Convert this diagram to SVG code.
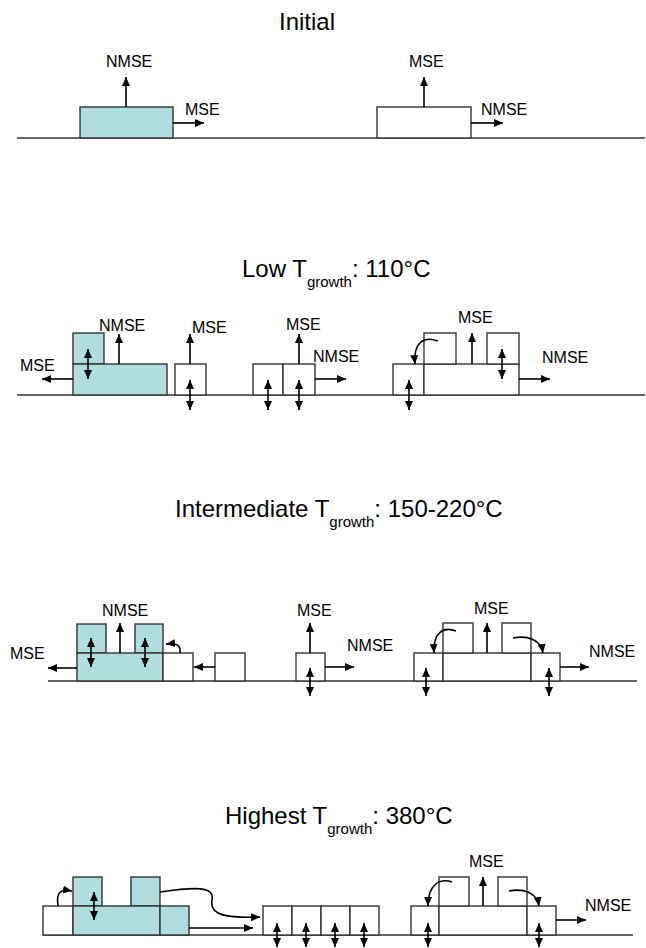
<svg xmlns="http://www.w3.org/2000/svg" width="646" height="948" viewBox="0 0 646 948">
<defs>
<marker id="ah" markerUnits="userSpaceOnUse" markerWidth="9" markerHeight="8" refX="9" refY="4" orient="auto-start-reverse"><path d="M0,0 L9,4 L0,8 z" fill="#000"/></marker>
<style>
.t{font-family:"Liberation Sans",Arial,sans-serif;font-size:24px;fill:#000}
.l{font-family:"Liberation Sans",Arial,sans-serif;font-size:16px;fill:#000}
.c{fill:#AFDDE0;stroke:#333;stroke-width:1.4}
.w{fill:#fff;stroke:#333;stroke-width:1.4}
.g{stroke:#333;stroke-width:1.4;fill:none}
.a{stroke:#000;stroke-width:1.6;fill:none;marker-end:url(#ah)}
.d{stroke:#000;stroke-width:1.6;fill:none;marker-end:url(#ah);marker-start:url(#ah)}
</style>
</defs>
<rect width="646" height="948" fill="#fff"/>

<g id="titles">
<text class="t" x="279" y="30">Initial</text>
<text class="t" x="242" y="277">Low T<tspan font-size="15" dy="10">growth</tspan><tspan dy="-10">: 110°C</tspan></text>
<text class="t" x="175" y="517">Intermediate T<tspan font-size="15" dy="10">growth</tspan><tspan dy="-10">: 150-220°C</tspan></text>
<text class="t" x="225" y="824">Highest T<tspan font-size="15" dy="10">growth</tspan><tspan dy="-10">: 380°C</tspan></text>
</g>

<g id="surfaces">
<line class="g" x1="17" y1="138" x2="645" y2="138"/>
<line class="g" x1="17" y1="395" x2="645" y2="395"/>
<line class="g" x1="48" y1="681" x2="637" y2="681"/>
<line class="g" x1="43" y1="935" x2="633" y2="935"/>
</g>

<!-- Panel 1 -->
<g id="p1-cyan"><rect class="c" x="80" y="107" width="93" height="31"/></g>
<g id="p1-white"><rect class="w" x="377" y="107" width="94" height="31"/></g>

<!-- Panel 2 -->
<g id="p2-cyan">
<rect class="c" x="73" y="333" width="31" height="31"/>
<rect class="c" x="73" y="364" width="94" height="31"/>
</g>
<g id="p2-island1"><rect class="w" x="175" y="364" width="31" height="31"/></g>
<g id="p2-island2">
<rect class="w" x="253" y="364" width="30" height="31"/>
<rect class="w" x="283" y="364" width="32" height="31"/>
</g>
<g id="p2-island3">
<rect class="w" x="393" y="364" width="31" height="31"/>
<rect class="w" x="424" y="364" width="95" height="31"/>
<rect class="w" x="424" y="333" width="32" height="31"/>
<rect class="w" x="487" y="333" width="32" height="31"/>
</g>

<!-- Panel 3 -->
<g id="p3-cyan">
<rect class="c" x="77" y="624" width="29" height="29"/>
<rect class="c" x="135" y="624" width="28" height="29"/>
<rect class="c" x="77" y="653" width="86" height="28"/>
</g>
<g id="p3-step"><rect class="w" x="163" y="653" width="30" height="28"/></g>
<g id="p3-island1"><rect class="w" x="215" y="653" width="30" height="28"/></g>
<g id="p3-island2"><rect class="w" x="296" y="653" width="29" height="28"/></g>
<g id="p3-island3">
<rect class="w" x="414" y="653" width="29" height="28"/>
<rect class="w" x="443" y="653" width="88" height="28"/>
<rect class="w" x="443" y="623" width="30" height="30"/>
<rect class="w" x="502" y="623" width="29" height="30"/>
<rect class="w" x="531" y="653" width="29" height="28"/>
</g>

<!-- Panel 4 -->
<g id="p4-cyan">
<rect class="w" x="43" y="906" width="30" height="29"/>
<rect class="c" x="73" y="877" width="29" height="29"/>
<rect class="c" x="131" y="877" width="29" height="29"/>
<rect class="c" x="73" y="906" width="87" height="29"/>
<rect class="c" x="160" y="906" width="29" height="29"/>
</g>
<g id="p4-row">
<rect class="w" x="263" y="906" width="29" height="29"/>
<rect class="w" x="292" y="906" width="29" height="29"/>
<rect class="w" x="321" y="906" width="29" height="29"/>
<rect class="w" x="350" y="906" width="29" height="29"/>
</g>
<g id="p4-island">
<rect class="w" x="411" y="906" width="28" height="29"/>
<rect class="w" x="439" y="906" width="88" height="29"/>
<rect class="w" x="439" y="877" width="30" height="29"/>
<rect class="w" x="498" y="877" width="29" height="29"/>
<rect class="w" x="527" y="906" width="29" height="29"/>
</g>

<g id="connectors">
<!-- p1 -->
<line class="a" x1="126" y1="107" x2="126" y2="77"/>
<line class="a" x1="173" y1="123" x2="204" y2="123"/>
<line class="a" x1="424" y1="107" x2="424" y2="77"/>
<line class="a" x1="471" y1="123" x2="503" y2="123"/>
<!-- p2 -->
<line class="d" x1="88" y1="349" x2="88" y2="379"/>
<line class="a" x1="119" y1="364" x2="119" y2="334"/>
<line class="a" x1="73" y1="379" x2="42" y2="379"/>
<line class="a" x1="190" y1="364" x2="190" y2="334"/>
<line class="d" x1="190" y1="380" x2="190" y2="410"/>
<line class="d" x1="268" y1="380" x2="268" y2="410"/>
<line class="d" x1="299" y1="380" x2="299" y2="410"/>
<line class="a" x1="299" y1="364" x2="299" y2="334"/>
<line class="a" x1="315" y1="379" x2="346" y2="379"/>
<line class="d" x1="409" y1="380" x2="409" y2="410"/>
<line class="d" x1="502" y1="349" x2="502" y2="379"/>
<line class="a" x1="472" y1="364" x2="472" y2="333"/>
<path class="a" d="M438,341 C424,336 413,342 415,364"/>
<line class="a" x1="519" y1="379" x2="550" y2="379"/>
<!-- p3 -->
<line class="d" x1="91" y1="638" x2="91" y2="667"/>
<line class="d" x1="145" y1="638" x2="145" y2="667"/>
<line class="a" x1="120" y1="653" x2="120" y2="623"/>
<line class="a" x1="77" y1="668" x2="48" y2="668"/>
<path class="a" d="M180,653 C181,645 177,643 166,644"/>
<line class="a" x1="215" y1="667" x2="194" y2="667"/>
<line class="a" x1="310" y1="653" x2="310" y2="623"/>
<line class="d" x1="310" y1="668" x2="310" y2="696"/>
<line class="a" x1="325" y1="667" x2="354" y2="667"/>
<line class="d" x1="426" y1="668" x2="426" y2="696"/>
<line class="d" x1="549" y1="668" x2="549" y2="696"/>
<line class="a" x1="487" y1="653" x2="487" y2="623"/>
<path class="a" d="M456,631 C443,626 433,633 434,653"/>
<path class="a" d="M513,638 C528,635 541,640 543,653"/>
<line class="a" x1="560" y1="667" x2="589" y2="667"/>
<!-- p4 -->
<line class="d" x1="94" y1="892" x2="94" y2="920"/>
<path class="a" d="M58,906 C56,892 60,889 72,891"/>
<path class="a" d="M160,892 C195,887 215,886 212,900 C209,916 228,918 260,917"/>
<line class="a" x1="189" y1="928" x2="253" y2="928"/>
<line class="d" x1="277" y1="923" x2="277" y2="947"/>
<line class="d" x1="306" y1="923" x2="306" y2="947"/>
<line class="d" x1="335" y1="923" x2="335" y2="947"/>
<line class="d" x1="364" y1="923" x2="364" y2="947"/>
<line class="d" x1="428" y1="923" x2="428" y2="947"/>
<line class="d" x1="539" y1="923" x2="539" y2="947"/>
<line class="a" x1="483" y1="906" x2="483" y2="877"/>
<path class="a" d="M452,882 C440,878 428,884 428,906"/>
<path class="a" d="M509,891 C524,888 537,893 539,906"/>
<line class="a" x1="556" y1="920" x2="586" y2="920"/>
</g>

<g id="labels">
<text class="l" x="106" y="67">NMSE</text>
<text class="l" x="185" y="115">MSE</text>
<text class="l" x="409" y="67">MSE</text>
<text class="l" x="481" y="115">NMSE</text>

<text class="l" x="99" y="331">NMSE</text>
<text class="l" x="20" y="371">MSE</text>
<text class="l" x="192" y="333">MSE</text>
<text class="l" x="286" y="330">MSE</text>
<text class="l" x="313" y="362">NMSE</text>
<text class="l" x="458" y="323">MSE</text>
<text class="l" x="542" y="363">NMSE</text>

<text class="l" x="102" y="616">NMSE</text>
<text class="l" x="10" y="659">MSE</text>
<text class="l" x="297" y="616">MSE</text>
<text class="l" x="347" y="651">NMSE</text>
<text class="l" x="474" y="614">MSE</text>
<text class="l" x="589" y="657">NMSE</text>

<text class="l" x="469" y="867">MSE</text>
<text class="l" x="585" y="911">NMSE</text>
</g>
</svg>
